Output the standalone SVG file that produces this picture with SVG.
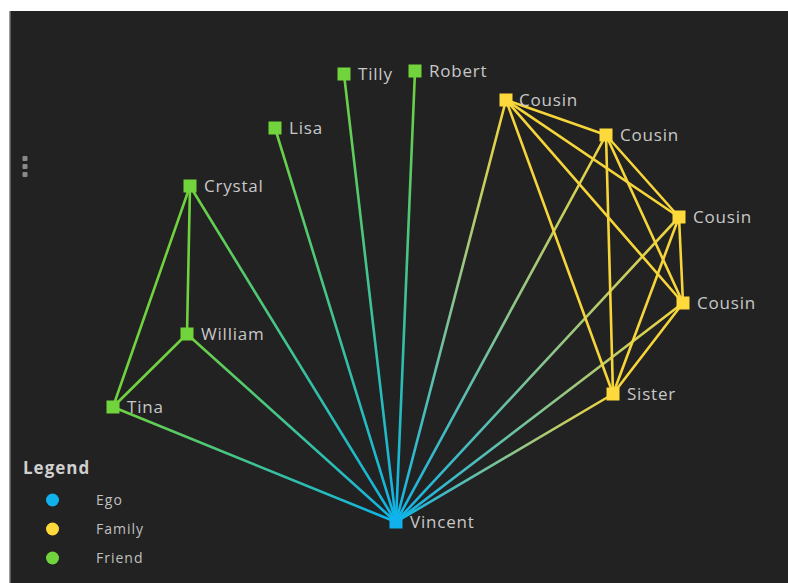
<svg xmlns="http://www.w3.org/2000/svg" width="788" height="583" viewBox="0 0 788 583">
  <style>
    .lbl { font-family: "Open Sans", "Liberation Sans", sans-serif; font-size: 17px; letter-spacing: 0.8px; fill: #c8c8c8; }
    .leg { font-family: "Open Sans", "Liberation Sans", sans-serif; font-size: 14px; letter-spacing: 1px; fill: #c0c0c0; }
    .legt { font-family: "Open Sans", "Liberation Sans", sans-serif; font-size: 17px; font-weight: bold; letter-spacing: 1px; fill: #cfcfcf; }
    .e { stroke-width: 2.6; fill: none; stroke-linecap: round; }
    .fam { stroke: #f6d53b; }
    .fri { stroke: #6fd23e; }
    .ego-n { fill: #0fb2ec; }
    .fam-n { fill: #fdd93b; }
    .fri-n { fill: #72d43d; }
  </style>
  <defs>
    <linearGradient id="g-tina" gradientUnits="userSpaceOnUse" x1="396" y1="522" x2="113" y2="407"><stop offset="0" stop-color="#0cb3ea"/><stop offset="1" stop-color="#6fd23e"/></linearGradient>
    <linearGradient id="g-william" gradientUnits="userSpaceOnUse" x1="396" y1="522" x2="187" y2="334"><stop offset="0" stop-color="#0cb3ea"/><stop offset="1" stop-color="#6fd23e"/></linearGradient>
    <linearGradient id="g-crystal" gradientUnits="userSpaceOnUse" x1="396" y1="522" x2="190" y2="186"><stop offset="0" stop-color="#0cb3ea"/><stop offset="1" stop-color="#6fd23e"/></linearGradient>
    <linearGradient id="g-lisa" gradientUnits="userSpaceOnUse" x1="396" y1="522" x2="275" y2="128"><stop offset="0" stop-color="#0cb3ea"/><stop offset="1" stop-color="#6fd23e"/></linearGradient>
    <linearGradient id="g-tilly" gradientUnits="userSpaceOnUse" x1="396" y1="522" x2="344" y2="74"><stop offset="0" stop-color="#0cb3ea"/><stop offset="1" stop-color="#6fd23e"/></linearGradient>
    <linearGradient id="g-robert" gradientUnits="userSpaceOnUse" x1="396" y1="522" x2="415" y2="71"><stop offset="0" stop-color="#0cb3ea"/><stop offset="1" stop-color="#6fd23e"/></linearGradient>
    <linearGradient id="g-c1" gradientUnits="userSpaceOnUse" x1="396" y1="522" x2="506" y2="100"><stop offset="0" stop-color="#0cb3ea"/><stop offset="1" stop-color="#f6d53b"/></linearGradient>
    <linearGradient id="g-c2" gradientUnits="userSpaceOnUse" x1="396" y1="522" x2="606" y2="135"><stop offset="0" stop-color="#0cb3ea"/><stop offset="1" stop-color="#f6d53b"/></linearGradient>
    <linearGradient id="g-c3" gradientUnits="userSpaceOnUse" x1="396" y1="522" x2="679" y2="217"><stop offset="0" stop-color="#0cb3ea"/><stop offset="1" stop-color="#f6d53b"/></linearGradient>
    <linearGradient id="g-c4" gradientUnits="userSpaceOnUse" x1="396" y1="522" x2="683" y2="303"><stop offset="0" stop-color="#0cb3ea"/><stop offset="1" stop-color="#f6d53b"/></linearGradient>
    <linearGradient id="g-sis" gradientUnits="userSpaceOnUse" x1="396" y1="522" x2="613" y2="394"><stop offset="0" stop-color="#0cb3ea"/><stop offset="1" stop-color="#f6d53b"/></linearGradient>
  </defs>

  <!-- page and panel -->
  <rect width="788" height="583" fill="#ffffff"/>
  <rect x="9" y="11" width="779" height="572" fill="#222222"/>
  <rect x="9" y="11" width="1.5" height="572" fill="#9a9a9a"/>

  <!-- panel menu -->
  <g id="menu" fill="#8a8a8a">
    <rect x="22.5" y="156" width="5" height="5" rx="1"/>
    <rect x="22.5" y="164" width="5" height="5" rx="1"/>
    <rect x="22.5" y="172" width="5" height="5" rx="1"/>
  </g>

  <g id="connectors">
    <!-- ego ties -->
    <line class="e" stroke="url(#g-tina)" x1="396" y1="522" x2="113" y2="407"/>
    <line class="e" stroke="url(#g-william)" x1="396" y1="522" x2="187" y2="334"/>
    <line class="e" stroke="url(#g-crystal)" x1="396" y1="522" x2="190" y2="186"/>
    <line class="e" stroke="url(#g-lisa)" x1="396" y1="522" x2="275" y2="128"/>
    <line class="e" stroke="url(#g-tilly)" x1="396" y1="522" x2="344" y2="74"/>
    <line class="e" stroke="url(#g-robert)" x1="396" y1="522" x2="415" y2="71"/>
    <line class="e" stroke="url(#g-c1)" x1="396" y1="522" x2="506" y2="100"/>
    <line class="e" stroke="url(#g-c2)" x1="396" y1="522" x2="606" y2="135"/>
    <line class="e" stroke="url(#g-c3)" x1="396" y1="522" x2="679" y2="217"/>
    <line class="e" stroke="url(#g-c4)" x1="396" y1="522" x2="683" y2="303"/>
    <line class="e" stroke="url(#g-sis)" x1="396" y1="522" x2="613" y2="394"/>
    <!-- friend ties -->
    <line class="e fri" x1="190" y1="186" x2="187" y2="334"/>
    <line class="e fri" x1="190" y1="186" x2="113" y2="407"/>
    <line class="e fri" x1="187" y1="334" x2="113" y2="407"/>
    <!-- family ties -->
    <line class="e fam" x1="506" y1="100" x2="606" y2="135"/>
    <line class="e fam" x1="506" y1="100" x2="679" y2="217"/>
    <line class="e fam" x1="506" y1="100" x2="683" y2="303"/>
    <line class="e fam" x1="506" y1="100" x2="613" y2="394"/>
    <line class="e fam" x1="606" y1="135" x2="679" y2="217"/>
    <line class="e fam" x1="606" y1="135" x2="683" y2="303"/>
    <line class="e fam" x1="606" y1="135" x2="613" y2="394"/>
    <line class="e fam" x1="679" y1="217" x2="683" y2="303"/>
    <line class="e fam" x1="679" y1="217" x2="613" y2="394"/>
    <line class="e fam" x1="683" y1="303" x2="613" y2="394"/>
  </g>

  <g id="vincent"><rect class="ego-n" x="389.5" y="515.5" width="13" height="13"/><text class="lbl" x="410" y="528">Vincent</text></g>
  <g id="tina"><rect class="fri-n" x="106.5" y="400.5" width="13" height="13"/><text class="lbl" x="127" y="413">Tina</text></g>
  <g id="william"><rect class="fri-n" x="180.5" y="327.5" width="13" height="13"/><text class="lbl" x="201" y="340">William</text></g>
  <g id="crystal"><rect class="fri-n" x="183.5" y="179.5" width="13" height="13"/><text class="lbl" x="204" y="192">Crystal</text></g>
  <g id="lisa"><rect class="fri-n" x="268.5" y="121.5" width="13" height="13"/><text class="lbl" x="289" y="134">Lisa</text></g>
  <g id="tilly"><rect class="fri-n" x="337.5" y="67.5" width="13" height="13"/><text class="lbl" x="358" y="80">Tilly</text></g>
  <g id="robert"><rect class="fri-n" x="408.5" y="64.5" width="13" height="13"/><text class="lbl" x="429" y="77">Robert</text></g>
  <g id="cousin1"><rect class="fam-n" x="499.5" y="93.5" width="13" height="13"/><text class="lbl" x="519" y="106">Cousin</text></g>
  <g id="cousin2"><rect class="fam-n" x="599.5" y="128.5" width="13" height="13"/><text class="lbl" x="620" y="141">Cousin</text></g>
  <g id="cousin3"><rect class="fam-n" x="672.5" y="210.5" width="13" height="13"/><text class="lbl" x="693" y="223">Cousin</text></g>
  <g id="cousin4"><rect class="fam-n" x="676.5" y="296.5" width="13" height="13"/><text class="lbl" x="697" y="309">Cousin</text></g>
  <g id="sister"><rect class="fam-n" x="606.5" y="387.5" width="13" height="13"/><text class="lbl" x="627" y="400">Sister</text></g>

  <g id="legend">
    <text class="legt" x="23" y="474">Legend</text>
    <circle cx="52.5" cy="500" r="6.5" fill="#0fb2ec"/>
    <text class="leg" x="96" y="505">Ego</text>
    <circle cx="52.5" cy="529" r="6.5" fill="#fdd93b"/>
    <text class="leg" x="96" y="534">Family</text>
    <circle cx="52.5" cy="558" r="6.5" fill="#72d43d"/>
    <text class="leg" x="96" y="563">Friend</text>
  </g>
</svg>
